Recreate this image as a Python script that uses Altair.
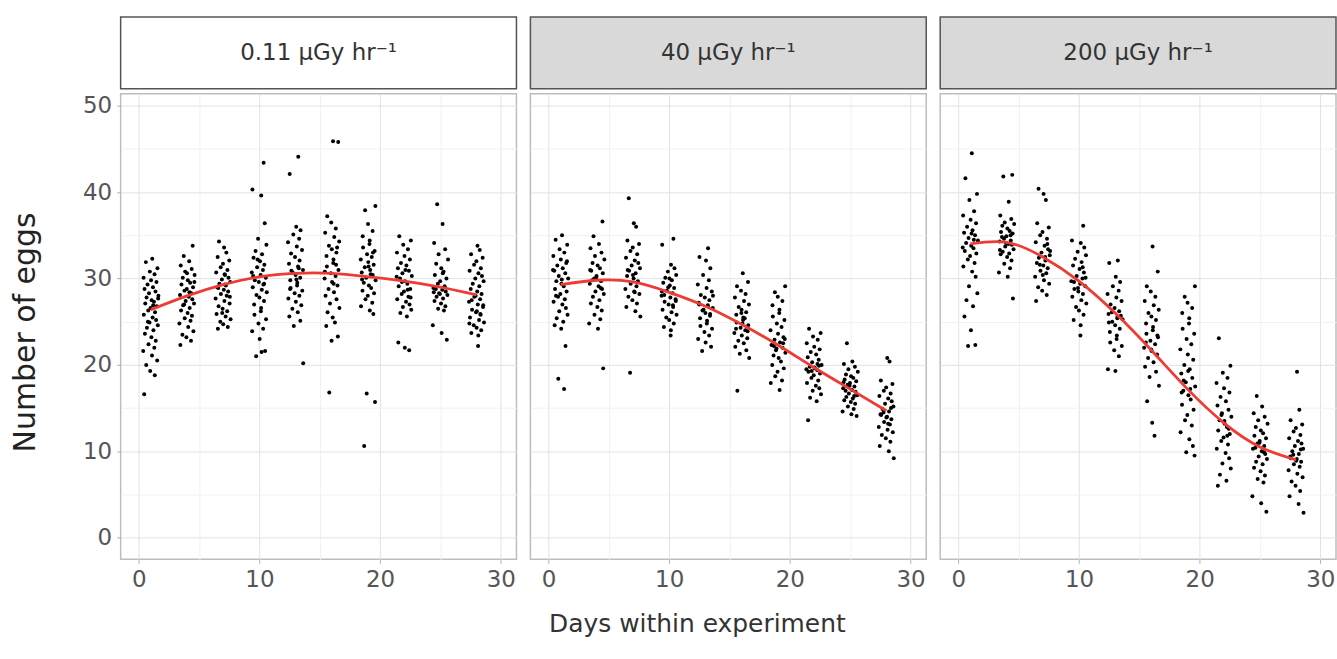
import altair as alt
import pandas as pd

# ---------------- data ----------------
DAYS = [1, 4, 7, 10, 13, 16, 19, 22, 25, 28]
PANEL_LABELS = ["0.11 µGy hr⁻¹", "40 µGy hr⁻¹", "200 µGy hr⁻¹"]

# horizontal jitter (days) applied to the points of each day cluster
JITTER = [0.12, -0.41, 0.55, -0.08, 0.31, -0.60, 0.02, 0.47, -0.27, 0.18, -0.52, 0.39,
          -0.15, 0.63, -0.35, 0.07, 0.26, -0.46, 0.50, -0.02, -0.21, 0.35, -0.58, 0.15,
          0.44, -0.11, 0.58, -0.32, 0.22, -0.49, 0.05, 0.41, -0.19, 0.29, -0.63, 0.10,
          0.53, -0.38, -0.05, 0.33, -0.55, 0.20, 0.61, -0.24, 0.00, 0.38, -0.44, 0.14]

low_dose = [
    [32.3, 31.9, 31.2, 30.8, 30.5, 30.1, 29.8, 29.6, 29.3, 29.0, 28.8, 28.5, 28.3, 28.0, 27.8, 27.5, 27.3, 27.1, 26.8, 26.6, 26.3, 26.1, 25.8, 25.5, 25.2, 24.9, 24.6, 24.3, 24.0, 23.6, 23.2, 22.8, 22.4, 22.0, 21.6, 21.1, 20.5, 20.0, 19.3, 18.8, 16.6, 26.9, 27.7, 25.0],
    [33.8, 32.6, 32.0, 31.5, 31.1, 30.8, 30.4, 30.1, 29.8, 29.5, 29.3, 29.0, 28.8, 28.6, 28.3, 28.1, 27.9, 27.6, 27.4, 27.1, 26.9, 26.6, 26.3, 26.0, 25.7, 25.4, 25.1, 24.8, 24.4, 23.9, 23.5, 23.2, 22.8, 22.3, 28.4, 29.6, 27.0, 30.6],
    [34.3, 33.6, 33.0, 32.5, 32.1, 31.7, 31.3, 31.0, 30.7, 30.4, 30.1, 29.9, 29.6, 29.4, 29.2, 29.0, 28.7, 28.5, 28.2, 28.0, 27.7, 27.4, 27.1, 26.8, 26.5, 26.2, 25.9, 25.6, 25.3, 25.0, 24.7, 24.4, 24.2, 29.3, 30.5, 28.9, 27.9, 26.0],
    [43.4, 40.3, 39.6, 36.4, 34.6, 33.9, 33.2, 32.8, 32.4, 32.0, 31.6, 31.3, 31.0, 30.7, 30.4, 30.1, 29.8, 29.6, 29.3, 29.0, 28.7, 28.4, 28.1, 27.8, 27.4, 27.0, 26.6, 26.2, 25.8, 25.3, 24.8, 24.2, 23.9, 23.0, 21.6, 21.0, 21.5, 30.3, 29.4, 32.2],
    [44.1, 42.1, 36.0, 35.6, 35.1, 34.6, 34.2, 33.7, 33.3, 32.9, 32.5, 32.1, 31.7, 31.4, 31.0, 30.7, 30.4, 30.1, 29.8, 29.5, 29.2, 28.9, 28.6, 28.3, 28.0, 27.7, 27.3, 26.9, 26.5, 26.1, 25.6, 25.1, 24.5, 20.2, 30.9, 29.9, 31.2, 28.8],
    [45.9, 45.8, 37.2, 36.5, 35.8, 35.3, 34.8, 34.3, 33.8, 33.4, 33.0, 32.6, 32.2, 31.8, 31.4, 31.0, 30.6, 30.3, 30.0, 29.6, 29.2, 28.8, 28.4, 28.0, 27.6, 27.1, 26.6, 26.1, 25.5, 24.9, 24.5, 23.3, 22.8, 16.8, 31.6, 30.8, 29.4, 33.6],
    [38.4, 37.9, 36.3, 35.5, 34.9, 34.4, 34.0, 33.6, 33.2, 32.8, 32.5, 32.2, 31.9, 31.6, 31.3, 31.0, 30.7, 30.4, 30.1, 29.8, 29.5, 29.2, 28.9, 28.6, 28.3, 28.0, 27.6, 27.2, 26.8, 26.3, 25.9, 16.7, 15.7, 10.6, 30.5, 29.9, 31.4, 33.0],
    [34.9, 34.4, 33.9, 33.4, 33.0, 32.6, 32.2, 31.8, 31.5, 31.2, 30.9, 30.6, 30.3, 30.0, 29.7, 29.4, 29.1, 28.8, 28.5, 28.2, 27.9, 27.6, 27.3, 27.0, 26.7, 26.4, 26.0, 25.6, 22.6, 22.0, 21.7, 29.6, 28.7, 30.2, 31.0, 27.8],
    [38.6, 36.3, 34.1, 33.4, 32.8, 32.2, 31.7, 31.2, 30.8, 30.4, 30.0, 29.7, 29.4, 29.1, 28.9, 28.7, 28.5, 28.3, 28.1, 27.9, 27.7, 27.4, 27.1, 26.8, 26.5, 26.3, 24.6, 23.7, 22.9, 28.8, 28.2, 29.0, 28.4, 30.6],
    [33.8, 33.3, 32.8, 32.4, 32.0, 31.6, 31.2, 30.9, 30.6, 30.3, 30.0, 29.7, 29.4, 29.1, 28.8, 28.5, 28.2, 27.9, 27.6, 27.3, 27.0, 26.7, 26.4, 26.1, 25.8, 25.5, 25.2, 24.9, 24.6, 24.3, 24.0, 23.7, 23.4, 22.2, 27.5, 26.9, 28.0, 25.9, 24.8, 26.2],
]

mid_dose = [
    [35.0, 34.5, 33.9, 33.4, 33.0, 32.6, 32.2, 31.8, 31.5, 31.2, 30.9, 30.6, 30.3, 30.0, 29.7, 29.4, 29.1, 28.8, 28.5, 28.2, 27.9, 27.6, 27.3, 27.0, 26.6, 26.2, 25.8, 25.4, 25.0, 24.6, 24.2, 22.2, 18.4, 17.2, 31.0, 29.9, 32.0, 28.0],
    [36.6, 34.9, 34.0, 33.5, 33.0, 32.6, 32.2, 31.8, 31.5, 31.2, 30.9, 30.6, 30.3, 30.0, 29.7, 29.4, 29.1, 28.8, 28.5, 28.2, 27.9, 27.5, 27.1, 26.7, 26.3, 25.8, 25.3, 24.8, 24.2, 19.6, 29.8, 30.1, 28.9, 31.0],
    [39.3, 36.4, 36.0, 34.4, 34.0, 33.6, 33.2, 32.8, 32.4, 32.1, 31.8, 31.5, 31.2, 30.9, 30.6, 30.3, 30.0, 29.7, 29.4, 29.1, 28.8, 28.5, 28.2, 27.9, 27.5, 27.1, 26.7, 26.2, 25.6, 19.1, 30.4, 29.6, 31.0, 28.4],
    [34.6, 33.9, 31.6, 31.2, 30.8, 30.4, 30.1, 29.8, 29.5, 29.2, 28.9, 28.6, 28.3, 28.0, 27.8, 27.6, 27.3, 27.0, 26.7, 26.4, 26.1, 25.8, 25.5, 25.2, 24.8, 24.4, 24.0, 23.4, 28.1, 27.4, 29.0, 26.9, 28.5, 30.0],
    [33.5, 32.5, 32.1, 31.2, 30.4, 29.8, 29.3, 28.9, 28.5, 28.1, 27.8, 27.5, 27.2, 26.9, 26.6, 26.3, 26.0, 25.7, 25.4, 25.1, 24.8, 24.5, 24.2, 23.8, 23.4, 23.0, 22.6, 22.1, 21.6, 26.8, 27.0, 25.9, 26.4, 28.0],
    [30.6, 29.6, 29.1, 28.6, 28.2, 27.8, 27.4, 27.0, 26.7, 26.4, 26.1, 25.8, 25.5, 25.2, 24.9, 24.6, 24.3, 24.0, 23.7, 23.4, 23.1, 22.8, 22.5, 22.1, 21.7, 21.3, 20.8, 17.0, 24.8, 25.4, 24.2, 23.9, 26.0],
    [29.1, 28.4, 27.9, 27.4, 26.9, 26.4, 26.0, 25.6, 25.2, 24.8, 24.4, 24.0, 23.6, 23.2, 22.9, 22.6, 22.3, 22.0, 21.7, 21.4, 21.1, 20.8, 20.4, 20.0, 19.6, 19.2, 18.7, 18.2, 17.9, 17.1, 22.5, 21.9, 23.0, 22.2],
    [24.2, 23.7, 23.3, 22.9, 22.5, 22.1, 21.8, 21.5, 21.2, 20.9, 20.6, 20.3, 20.0, 19.8, 19.6, 19.4, 19.2, 19.0, 18.8, 18.5, 18.2, 17.9, 17.6, 17.3, 17.0, 16.6, 16.2, 15.8, 13.6, 19.7, 19.9, 19.3, 20.1, 19.5],
    [22.5, 20.4, 20.1, 19.8, 19.5, 19.2, 18.9, 18.7, 18.5, 18.3, 18.1, 17.9, 17.7, 17.5, 17.3, 17.1, 16.9, 16.7, 16.5, 16.3, 16.1, 15.9, 15.7, 15.5, 15.2, 14.9, 14.6, 14.3, 14.1, 17.0, 17.6, 16.4, 18.0],
    [20.8, 20.4, 18.2, 17.8, 17.4, 17.0, 16.7, 16.4, 16.1, 15.8, 15.5, 15.2, 14.9, 14.6, 14.3, 14.0, 13.7, 13.4, 13.1, 12.8, 12.5, 12.2, 11.9, 11.5, 11.1, 10.6, 10.0, 9.2, 14.5, 13.9, 15.0, 14.2, 13.2],
]

high_dose = [
    [44.5, 41.6, 39.8, 39.1, 37.8, 37.3, 36.8, 36.4, 36.0, 35.6, 35.3, 35.0, 34.7, 34.4, 34.1, 33.8, 33.5, 33.2, 32.9, 32.6, 32.2, 31.8, 31.4, 30.8, 30.2, 29.1, 28.3, 27.5, 26.8, 25.6, 24.0, 22.3, 22.2, 34.5, 33.6, 35.2],
    [42.0, 41.8, 38.9, 37.3, 36.9, 36.5, 36.3, 36.1, 35.8, 35.5, 35.4, 35.2, 34.9, 34.6, 34.4, 34.3, 34.0, 33.9, 33.7, 33.4, 33.1, 32.9, 32.8, 32.5, 32.1, 31.7, 31.2, 30.7, 30.2, 27.7, 34.8, 34.1, 35.0, 33.3],
    [40.4, 39.8, 39.1, 36.4, 35.9, 35.4, 35.0, 34.6, 34.2, 33.8, 33.4, 33.0, 32.7, 32.4, 32.1, 31.8, 31.5, 31.2, 30.9, 30.6, 30.2, 29.8, 29.4, 29.0, 28.6, 28.1, 27.4, 32.5, 33.2, 31.6, 30.4, 34.0],
    [36.1, 34.4, 34.1, 33.6, 33.1, 32.7, 32.3, 31.9, 31.5, 31.1, 30.7, 30.3, 30.0, 29.7, 29.4, 29.1, 28.8, 28.5, 28.2, 27.9, 27.5, 27.1, 26.7, 26.3, 25.8, 25.2, 24.6, 23.4, 29.6, 30.1, 28.9, 31.3],
    [32.1, 31.8, 30.2, 29.6, 29.1, 28.6, 28.2, 27.8, 27.4, 27.0, 26.6, 26.2, 25.9, 25.6, 25.3, 25.0, 24.6, 24.2, 23.8, 23.4, 23.0, 22.6, 22.2, 21.7, 21.0, 19.5, 19.3, 25.7, 26.1, 25.4, 24.9],
    [33.7, 30.8, 29.1, 28.5, 27.9, 27.4, 26.9, 26.4, 26.0, 25.6, 25.2, 24.8, 24.4, 24.0, 23.6, 23.2, 22.8, 22.4, 22.0, 21.6, 21.2, 20.8, 20.3, 19.8, 19.2, 18.6, 17.6, 15.8, 13.3, 11.8, 22.6, 23.4, 21.8],
    [29.1, 27.9, 27.2, 26.6, 26.0, 25.4, 24.8, 24.2, 23.6, 23.0, 22.4, 21.8, 21.2, 20.6, 20.0, 19.5, 19.0, 18.5, 18.0, 17.5, 17.0, 16.5, 16.0, 15.4, 14.8, 14.2, 13.6, 13.0, 12.2, 11.4, 10.6, 9.9, 9.5, 18.2, 17.2, 16.8, 19.3],
    [23.1, 19.9, 19.1, 18.5, 17.9, 17.3, 16.8, 16.3, 15.8, 15.3, 14.8, 14.4, 14.0, 13.6, 13.2, 12.8, 12.4, 12.0, 11.6, 11.2, 10.8, 10.3, 9.8, 9.2, 8.6, 8.0, 7.3, 6.6, 6.0, 13.5, 12.6, 14.2, 11.8],
    [16.4, 15.2, 14.4, 14.0, 13.6, 13.2, 12.8, 12.4, 12.1, 11.8, 11.5, 11.2, 10.9, 10.6, 10.3, 10.0, 9.7, 9.4, 9.1, 8.8, 8.5, 8.1, 7.7, 7.2, 6.8, 6.4, 4.8, 4.0, 3.0, 10.4, 11.0, 9.9],
    [19.2, 14.8, 13.6, 13.1, 12.7, 12.3, 11.9, 11.5, 11.2, 10.9, 10.6, 10.3, 10.0, 9.7, 9.4, 9.1, 8.8, 8.5, 8.2, 7.8, 7.4, 7.0, 6.5, 6.0, 5.4, 4.8, 3.9, 2.9, 9.6, 8.9, 10.2, 9.2],
]

# fitted smooth curves, read at each sampling day
curve_low = [26.4, 28.0, 29.3, 30.2, 30.6, 30.6, 30.2, 29.7, 29.0, 28.1]
curve_mid = [29.3, 29.8, 29.6, 28.4, 26.8, 24.7, 22.3, 19.7, 17.2, 14.7]
curve_high = [34.0, 34.2, 32.5, 29.7, 26.0, 21.7, 17.2, 13.3, 10.5, 9.0]

X_TICKS = [0, 5, 10, 15, 20, 25, 30]
Y_TICKS = [0, 5, 10, 15, 20, 25, 30, 35, 40, 45, 50]

# ---------------- styling ----------------
FONT = "DejaVu Sans"
W, H, STRIP_H = 397, 467, 72
X_DOMAIN = [-1.5, 31.3]
Y_DOMAIN = [-2.5, 51.4]
MAJOR = "datum.value % 10 === 0"
GRID_COLOR = {"condition": {"test": MAJOR, "value": "#e2e2e2"}, "value": "#f1f1f1"}
TICK_OPACITY = {"condition": {"test": MAJOR, "value": 1}, "value": 0}


def points_frame(clusters):
    rows = []
    for k, (day, ys) in enumerate(zip(DAYS, clusters)):
        for i, y in enumerate(ys):
            rows.append({"day": day + JITTER[(i + 7 * k) % len(JITTER)], "eggs": y})
    return pd.DataFrame(rows)


def panel(label, clusters, curve, strip_fill, first, middle):
    pts = points_frame(clusters)
    cdf = pd.DataFrame({"day": DAYS, "eggs": curve})

    x_axis_kw = dict(values=X_TICKS, labelExpr=f"{MAJOR} ? datum.label : ''",
                     gridColor=GRID_COLOR, tickOpacity=TICK_OPACITY, tickColor="#b0b0b0",
                     tickSize=4, labelPadding=5, labelFontSize=23, labelColor="#555555",
                     labelFont=FONT, domain=False)
    if middle:
        x_axis = alt.Axis(title="Days within experiment", titleFont=FONT, titleFontSize=25,
                          titleFontWeight="normal", titleColor="#333333",
                          titleX=167, titleY=64, titleAlign="center", titleBaseline="middle",
                          **x_axis_kw)
    else:
        x_axis = alt.Axis(title=None, **x_axis_kw)

    y_axis_kw = dict(values=Y_TICKS, gridColor=GRID_COLOR, domain=False)
    if first:
        y_axis = alt.Axis(title="Number of eggs", titleFont=FONT, titleFontSize=30,
                          titleFontWeight="normal", titleColor="#222222",
                          titleX=-95, titleY=239, titleBaseline="middle", titleAlign="center",
                          labelExpr=f"{MAJOR} ? datum.label : ''",
                          tickOpacity=TICK_OPACITY, tickColor="#b0b0b0", tickSize=4,
                          labelPadding=5, labelFontSize=23, labelColor="#555555",
                          labelFont=FONT, **y_axis_kw)
    else:
        y_axis = alt.Axis(title=None, labels=False, ticks=False, **y_axis_kw)

    x = alt.X("day:Q", scale=alt.Scale(domain=X_DOMAIN, nice=False, zero=False), axis=x_axis)
    y = alt.Y("eggs:Q", scale=alt.Scale(domain=Y_DOMAIN, nice=False, zero=False), axis=y_axis)

    dots = alt.Chart(pts).mark_circle(size=16, color="#000000", opacity=1).encode(x=x, y=y)
    line = alt.Chart(cdf).mark_line(color="#ee3b33", strokeWidth=2.8,
                                    interpolate="natural").encode(x="day:Q", y="eggs:Q")
    plot = alt.layer(dots, line).properties(
        width=W, height=H,
        view=alt.ViewBackground(fill="white", stroke="#bdbdbd", strokeWidth=1.5))

    strip = alt.Chart(pd.DataFrame({"label": [label]})).mark_text(
        font=FONT, fontSize=23, color="#333333", baseline="middle", align="center"
    ).encode(text="label:N", x=alt.value(W / 2), y=alt.value(STRIP_H / 2)).properties(
        width=W, height=STRIP_H,
        view=alt.ViewBackground(fill=strip_fill, stroke="#555555", strokeWidth=1.5))

    return alt.vconcat(strip, plot, spacing=3)


chart = alt.hconcat(
    panel(PANEL_LABELS[0], low_dose, curve_low, "#ffffff", True, False),
    panel(PANEL_LABELS[1], mid_dose, curve_mid, "#d9d9d9", False, True),
    panel(PANEL_LABELS[2], high_dose, curve_high, "#d9d9d9", False, False),
    spacing=12,
).properties(
    padding={"left": 10, "top": 15, "right": 0, "bottom": 0},
    background="white",
)

chart.save("out.html", embed_options={"renderer": "svg", "actions": False})
